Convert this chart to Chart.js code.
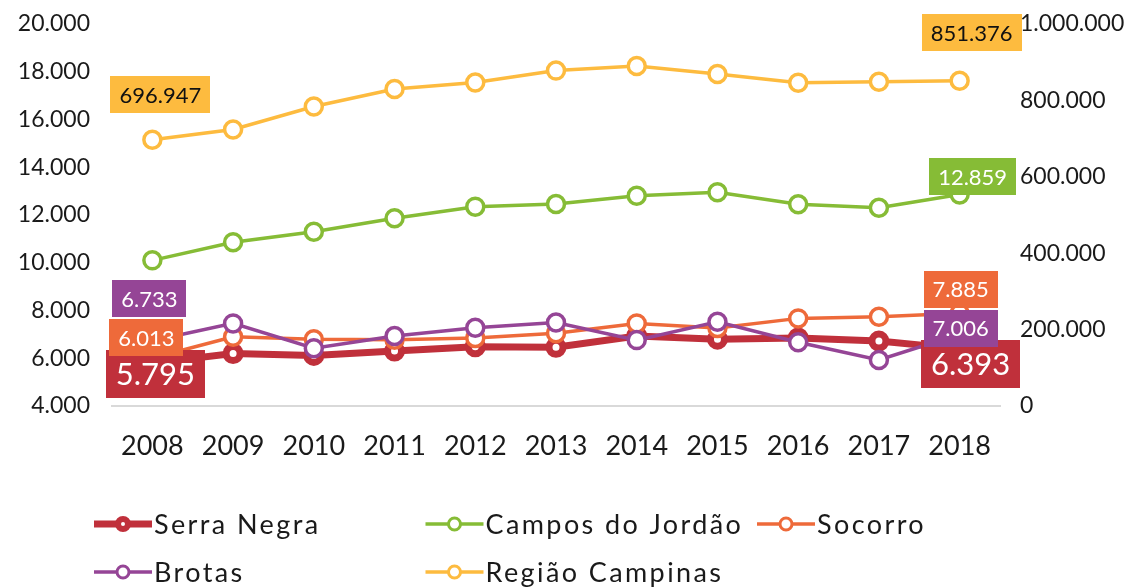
<!DOCTYPE html>
<html><head><meta charset="utf-8">
<script src="https://cdn.jsdelivr.net/npm/chart.js@4.4.0/dist/chart.umd.min.js"></script>
<style>html,body{margin:0;padding:0;background:#fff;} #wrap{position:relative;width:1132px;height:588px;}</style>
</head><body><div id="wrap"><canvas id="c" width="1132" height="588"></canvas></div>
<script>
// ---- data ----
const years = ['2008','2009','2010','2011','2012','2013','2014','2015','2016','2017','2018'];
const serraNegra = [5795, 6200, 6120, 6300, 6480, 6460, 6930, 6800, 6850, 6720, 6393];
const camposDoJordao = [10100, 10860, 11300, 11860, 12350, 12460, 12810, 12950, 12450, 12300, 12859];
const socorro = [6013, 6900, 6800, 6780, 6850, 7050, 7460, 7270, 7670, 7740, 7885];
const brotas = [6733, 7460, 6420, 6930, 7280, 7500, 6760, 7530, 6670, 5930, 7006];
const regiaoCampinas = [696947, 724000, 784000, 830000, 847000, 878000, 890000, 869000, 846000, 849000, 851376];
const seriesNames = ['Serra Negra', 'Campos do Jordão', 'Socorro', 'Brotas', 'Região Campinas'];
const leftTicks = {min: 4000, max: 20000, step: 2000};
const rightTicks = {min: 0, max: 1000000, step: 200000};

// ---- styles ----
const colors = ['#C0303B', '#86BC36', '#EE6A3A', '#954596', '#FDBB3F'];
const FONT = 'Lato, "Noto Sans", sans-serif';
const TEXT = '#1a1a1a';
function fmt(v){ return Math.round(v).toString().replace(/\B(?=(\d{3})+(?!\d))/g,'.'); }

// label placement (offsets from the point, box centre) per dataset index
const labelStyle = {
  0: {points: {0: [3, 11], 10: [11, 15]}, size: 31, text: '#fff'},
  2: {points: {0: [-6, -20], 10: [1, -24]}, size: 22, text: '#fff'},
  3: {points: {0: [-3, -42], 10: [1, -6]}, size: 22, text: '#fff'},
  1: {points: {10: [13, -18]}, size: 22, text: '#fff'},
  4: {points: {0: [8, -45], 10: [12, -48]}, size: 22, text: '#111'}
};
const labelDrawOrder = [0, 2, 3, 1, 4];

const boxLabels = {
  id: 'boxLabels',
  afterDatasetsDraw(chart) {
    const ctx = chart.ctx;
    ctx.save();
    labelDrawOrder.forEach(di => {
      const st = labelStyle[di];
      const meta = chart.getDatasetMeta(di);
      const ds = chart.data.datasets[di];
      Object.keys(st.points).forEach(k => {
        const i = +k;
        const pt = meta.data[i];
        const [dx, dy] = st.points[k];
        const txt = fmt(ds.data[i]);
        ctx.font = st.size + 'px ' + FONT;
        const w = ctx.measureText(txt).width + (st.size > 25 ? 20 : 18);
        const h = st.size > 25 ? 48 : 37;
        const cx = pt.x + dx, cy = pt.y + dy;
        ctx.fillStyle = colors[di];
        ctx.fillRect(Math.round(cx - w/2), Math.round(cy - h/2), Math.round(w), h);
        ctx.fillStyle = st.text;
        ctx.textAlign = 'center';
        ctx.textBaseline = 'middle';
        ctx.fillText(txt, cx, cy + 1);
      });
    });
    ctx.restore();
  }
};

const gridLegend = {
  id: 'gridLegend',
  afterDraw(chart) {
    const ctx = chart.ctx;
    ctx.save();
    const colX0 = 94, colW = 331.5, rowY = [524, 572];
    chart.data.datasets.forEach((ds, i) => {
      const col = i % 3, row = Math.floor(i / 3);
      const x = colX0 + col * colW, y = rowY[row];
      const thick = i === 0;
      ctx.strokeStyle = colors[i];
      ctx.lineWidth = thick ? 7 : 3.5;
      ctx.beginPath(); ctx.moveTo(x, y); ctx.lineTo(x + 58, y); ctx.stroke();
      ctx.beginPath(); ctx.arc(x + 29, y, thick ? 5 : 6, 0, Math.PI * 2);
      ctx.fillStyle = '#fff'; ctx.fill();
      ctx.lineWidth = thick ? 6 : 3; ctx.stroke();
      ctx.fillStyle = TEXT;
      ctx.font = '27px ' + FONT;
      ctx.letterSpacing = '2.4px';
      ctx.textAlign = 'left'; ctx.textBaseline = 'middle';
      ctx.fillText(ds.label, x + 60, y + 1);
      ctx.letterSpacing = '0px';
    });
    ctx.restore();
  }
};

const mk = (idx, data, axis, order, lw, pr, pbw) => ({
  label: seriesNames[idx], data, yAxisID: axis, order,
  borderColor: colors[idx], backgroundColor: '#fff',
  borderWidth: lw, pointRadius: pr, pointBorderWidth: pbw,
  pointBackgroundColor: '#fff', pointBorderColor: colors[idx], tension: 0
});

new Chart(document.getElementById('c'), {
  type: 'line',
  data: {
    labels: years,
    datasets: [
      mk(0, serraNegra, 'y', 3, 7, 7, 7),
      mk(1, camposDoJordao, 'y', 4, 3.5, 8.5, 3.5),
      mk(2, socorro, 'y', 2, 3.5, 8.5, 3.5),
      mk(3, brotas, 'y', 1, 3.5, 8.5, 3.5),
      mk(4, regiaoCampinas, 'y1', 5, 3.5, 8.5, 3.5)
    ]
  },
  options: {
    responsive: false, animation: false, devicePixelRatio: 1,
    layout: {padding: {top: 24, left: 0, right: 0, bottom: 0}},
    plugins: {legend: {display: false}, tooltip: {enabled: false}},
    scales: {
      x: {
        offset: true,
        grid: {display: false, drawTicks: false},
        border: {display: true, color: '#d9d9d9', width: 2},
        ticks: {font: {family: FONT, size: 27}, color: TEXT, padding: 24},
        afterFit(s) { s.height = 182; }
      },
      y: {
        position: 'left', min: leftTicks.min, max: leftTicks.max,
        grid: {display: false, drawTicks: false}, border: {display: false},
        ticks: {stepSize: leftTicks.step, callback: v => fmt(v), font: {family: FONT, size: 23}, color: TEXT, padding: 22},
        afterFit(s) { s.width = 112; s.paddingTop = 0; s.paddingBottom = 0; }
      },
      y1: {
        position: 'right', min: rightTicks.min, max: rightTicks.max,
        grid: {display: false, drawTicks: false}, border: {display: false},
        ticks: {stepSize: rightTicks.step, callback: v => fmt(v), font: {family: FONT, size: 23}, color: TEXT, padding: 20},
        afterFit(s) { s.width = 132; s.paddingTop = 0; s.paddingBottom = 0; }
      }
    }
  },
  plugins: [boxLabels, gridLegend]
});
</script>
</body></html>
